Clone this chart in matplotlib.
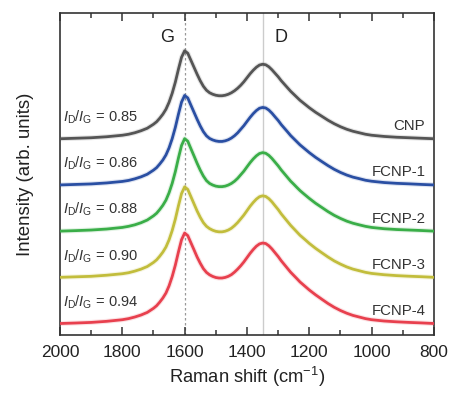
import numpy as np
import matplotlib
matplotlib.use('Agg')
import matplotlib.pyplot as plt

plt.rcParams['font.family'] = 'Liberation Sans'
plt.rcParams['mathtext.fontset'] = 'custom'
plt.rcParams['mathtext.rm'] = 'Liberation Sans'
plt.rcParams['mathtext.it'] = 'Liberation Sans:italic'

# Raman shift grid (cm-1)
shift = [2000, 1950, 1900, 1850, 1800, 1780, 1760, 1740, 1720, 1700, 1690, 1680,
         1670, 1660, 1650, 1640, 1630, 1620, 1610, 1600, 1590, 1580, 1570, 1560,
         1550, 1540, 1530, 1520, 1510, 1500, 1490, 1480, 1470, 1460, 1450, 1440, 1430,
         1420, 1410, 1400, 1390, 1380, 1370, 1360, 1350, 1340, 1330, 1320, 1310,
         1300, 1290, 1280, 1270, 1260, 1250, 1240, 1230, 1220, 1210, 1200, 1180,
         1160, 1140, 1120, 1100, 1080, 1060, 1040, 1020, 1000, 960, 920, 880, 840, 800]

# intensities (arb. units, each above its own baseline)
cnp = [0.5, 1, 1.5, 2.5, 4, 5, 6.5, 8.5, 11, 15, 17.5, 21,
       25, 30, 37, 46, 57, 70, 82, 88.5, 86, 79, 72, 65,
       58.5, 53, 49, 46.5, 45, 44, 43.5, 43.5, 44, 45, 46.5, 48.5, 51,
       54, 57.5, 61.5, 65.5, 69, 72, 74.2, 75, 74.5, 72.5, 69.5, 66,
       62.5, 58.5, 55, 51.5, 48, 45, 42, 39, 36.5, 34, 31.5, 27,
       23, 19, 15.5, 12.5, 10, 8, 6.5, 5, 4, 2.8, 2, 1.5, 1, 0.5]
fcnp1 = [0.5, 1, 1.5, 2.5, 4, 5, 6.6, 8.6, 11.2, 15.3, 17.8, 21.4,
         25.4, 30.5, 37.6, 46.8, 58, 71.2, 83.4, 90, 87.5, 80.3, 73.2, 66.1,
         59.5, 53.8, 49.6, 47, 45.5, 44.5, 44, 44, 44.6, 45.7, 47.4, 49.7, 52.6,
         56.2, 59.8, 64, 68.1, 71.8, 74.9, 77.2, 78, 77.5, 75.4, 72.3, 68.6,
         65, 60.8, 57.2, 53.6, 49.9, 46.8, 43.7, 40.6, 38, 35.4, 32.8, 28.1,
         23.9, 19.8, 16.1, 13, 10.4, 8.3, 6.8, 5.2, 4.2, 2.9, 2.1, 1.6, 1, 0.5]
fcnp2 = [0.5, 1, 1.6, 2.6, 4.2, 5.3, 6.8, 8.9, 11.6, 15.8, 18.4, 22.1,
         26.3, 31.5, 38.9, 48.3, 59.9, 73.6, 86.2, 93, 90.4, 83, 75.7, 68.3,
         61.5, 55.6, 51, 48.2, 46.6, 45.5, 45, 45, 45.5, 46.6, 48.2, 50.4, 53.3,
         56.9, 60.5, 64.8, 69, 72.7, 75.8, 78.1, 79, 78.4, 76.3, 73.2, 69.5,
         65.8, 61.6, 57.9, 54.2, 50.5, 47.4, 44.2, 41.1, 38.4, 35.8, 33.2, 28.4,
         24.2, 20, 16.3, 13.2, 10.5, 8.4, 6.8, 5.3, 4.2, 2.9, 2.1, 1.6, 1.1, 0.5]
fcnp3 = [0.5, 1, 1.5, 2.6, 4.1, 5.1, 6.7, 8.7, 11.3, 15.4, 18, 21.6,
         25.7, 30.8, 38, 47.3, 58.6, 72, 84.3, 91, 88.4, 81.2, 74, 66.8,
         60.5, 55.2, 51.5, 49.2, 47.6, 46.5, 46, 46, 46.6, 47.8, 49.6, 52.2, 55.3,
         59, 62.8, 67.2, 71.6, 75.4, 78.7, 81.1, 82, 81.4, 79.2, 76, 72.1,
         68.3, 63.9, 60.1, 56.3, 52.5, 49.2, 45.9, 42.6, 39.9, 37.2, 34.4, 29.5,
         25.1, 20.8, 16.9, 13.7, 10.9, 8.7, 7.1, 5.5, 4.4, 3.1, 2.2, 1.6, 1.1, 0.5]
fcnp4 = [0.5, 1, 1.6, 2.7, 4.3, 5.4, 7, 9, 11.6, 15.7, 18.3, 21.9,
         26, 31, 38.2, 47.5, 58.8, 72, 84.3, 91, 88.4, 81.3, 74.2, 67,
         60.8, 55.4, 51.6, 49.2, 47.6, 46.5, 46, 46, 46.6, 47.7, 49.4, 51.9, 54.9,
         58.3, 62.1, 66.4, 70.7, 74.5, 77.8, 80.1, 81, 80.5, 78.3, 75.1, 71.3,
         67.5, 63.2, 59.4, 55.6, 51.8, 48.6, 45.4, 42.1, 39.4, 36.7, 34, 29.2,
         24.8, 20.5, 16.7, 13.5, 10.8, 8.6, 7, 5.4, 4.3, 3, 2.2, 1.6, 1.1, 0.5]

names = ['CNP', 'FCNP-1', 'FCNP-2', 'FCNP-3', 'FCNP-4']
ratios = ['0.85', '0.86', '0.88', '0.90', '0.94']
spectra = [cnp, fcnp1, fcnp2, fcnp3, fcnp4]
colors = ['#555555', '#2a4fa3', '#3aae48', '#c2bd3c', '#e8404e']

offset = 46.2

fig = plt.figure(figsize=(4.49, 3.96), dpi=100)
ax = fig.add_axes([0.1336, 0.154, 0.833, 0.813])

ax.axvline(1600, color='#999999', lw=0.9, ls=(0, (2, 2)), zorder=1)
ax.axvline(1350, color='#cccccc', lw=1.0, zorder=1)

for i, (y, c) in enumerate(zip(spectra, colors)):
    base = (len(spectra) - 1 - i) * offset
    yy = np.array(y) + base
    ax.plot(shift, yy, color=c, lw=3.6, alpha=0.15, zorder=2)
    ax.plot(shift, yy, color=c, lw=2.0, zorder=3)
    ax.text(1990, base + 22, r'$I_{\mathrm{D}}/I_{\mathrm{G}}$ = ' + ratios[i],
            fontsize=10.5, ha='left', va='center', color='#333333')
    ax.text(828, base + 13, names[i], fontsize=10.8, ha='right', va='center',
            color='#333333')

ax.text(1655, 287, 'G', fontsize=13, ha='center', va='center', color='#222222')
ax.text(1292, 287, 'D', fontsize=13, ha='center', va='center', color='#222222')

ax.set_xlim(2000, 800)
ax.set_ylim(-11, 311)
ax.set_xticks(np.arange(2000, 799, -200))
ax.set_xticks(np.arange(1900, 800, -200), minor=True)
ax.set_yticks([])
ax.tick_params(axis='x', which='both', direction='in', top=True, labelsize=12.5,
               color='#333333', labelcolor='#222222', pad=7)
ax.tick_params(axis='x', which='major', length=6, width=1.1)
ax.tick_params(axis='x', which='minor', length=3.5, width=1.1)
for s in ax.spines.values():
    s.set_linewidth(1.2)
    s.set_color('#333333')

ax.set_xlabel('Raman shift (cm$^{-1}$)', fontsize=13.2, color='#222222', labelpad=4)
ax.set_ylabel('Intensity (arb. units)', fontsize=13.4, color='#222222', labelpad=19)

fig.savefig('out.png', dpi=100)
